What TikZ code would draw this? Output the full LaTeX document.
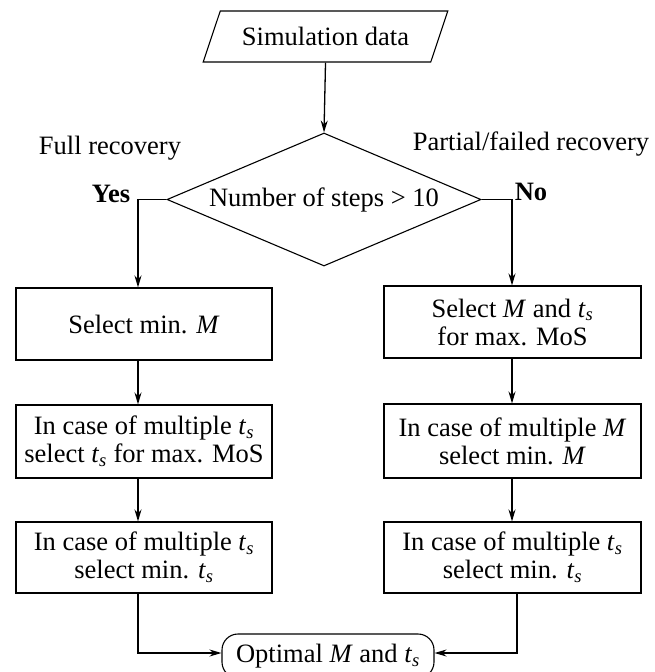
\documentclass[tikz,border=0pt]{standalone}
\usepackage{fontspec}
\setmainfont{Liberation Serif}
\usetikzlibrary{shapes.geometric,arrows.meta}
\newcommand\tsub{\textit{t}\textsubscript{\textit{s}}}
\begin{document}
\begin{tikzpicture}[x=1pt,y=-1pt,
  every node/.style={font=\fontsize{26.5}{28}\selectfont, align=center},
  arr/.style={line width=1.3pt, -{Stealth[length=12pt,width=7pt]}},
  procbox/.style={draw, line width=1.1pt, minimum width=256pt, inner sep=0pt},
]
\useasboundingbox (0,0) rectangle (654,672);
\node[trapezium, draw, line width=1.1pt, trapezium left angle=54, trapezium right angle=126,
      trapezium stretches=true, minimum width=245pt, minimum height=51pt, inner sep=0pt]
      (data) at (325.5,36.5) {Simulation data};
\node[diamond, draw, line width=1.1pt, shape aspect=2.35, minimum width=314pt, minimum height=133pt, inner sep=0pt]
      (dec) at (324,199.5) {Number of steps > 10};
\node (full) at (110,148) {Full recovery};
\node (part) at (531,144) {Partial/failed recovery};
\node[font=\fontsize{26.5}{28}\selectfont\bfseries] (yes) at (111,194) {Yes};
\node[font=\fontsize{26.5}{28}\selectfont\bfseries] (no) at (531,192) {No};
\coordinate (lx) at (138,0);
\coordinate (rx) at (512,0);
\coordinate (rx2) at (517,0);
\node[procbox, minimum height=72pt] (L1) at (144,324) {Select min. \textit{M}};
\node[procbox, minimum height=73pt] (L2) at (144,441.5) {In case of multiple \tsub\\select \tsub{} for max. MoS};
\node[procbox, minimum height=71pt] (L3) at (144,557.5) {In case of multiple \tsub\\select min. \tsub};
\node[procbox, minimum height=72pt, minimum width=257pt] (R1) at (512.5,322) {Select \textit{M} and \tsub\\for max. MoS};
\node[procbox, minimum height=74pt, minimum width=257pt] (R2) at (512.5,441) {In case of multiple \textit{M}\\select min. \textit{M}};
\node[procbox, minimum height=71pt, minimum width=257pt] (R3) at (512.5,557.5) {In case of multiple \tsub\\select min. \tsub};
\node[draw, line width=1.1pt, rounded corners=16pt, minimum width=212pt, minimum height=44pt, inner sep=0pt]
      (opt) at (328,656) {Optimal \textit{M} and \tsub};
\draw[arr] (data.south) -- (dec.north);
\draw[arr] (dec.west) -| (lx |- L1.north);
\draw[arr] (dec.east) -| (rx |- R1.north);
\draw[arr] (lx |- L1.south) -- (lx |- L2.north);
\draw[arr] (lx |- L2.south) -- (lx |- L3.north);
\draw[arr] (rx |- R1.south) -- (rx |- R2.north);
\draw[arr] (rx |- R2.south) -- (rx |- R3.north);
\draw[arr] (lx |- L3.south) |- ([yshift=3pt]opt.west);
\draw[arr] (rx2 |- R3.south) |- ([yshift=3pt]opt.east);
\end{tikzpicture}
\end{document}
